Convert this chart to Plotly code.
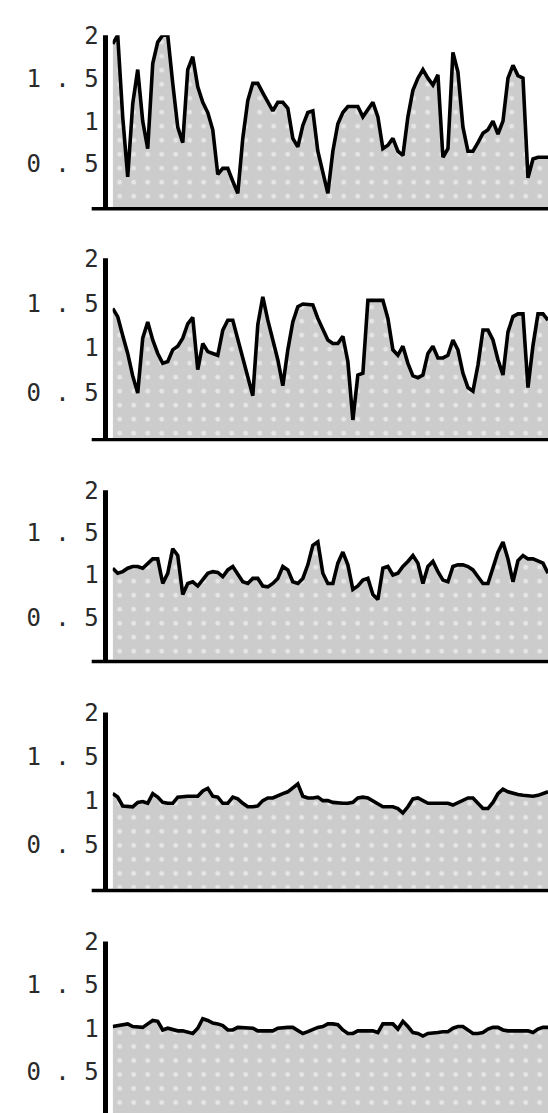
import plotly.graph_objects as go

# ---------------- data ----------------
x_index = list(range(88))

series_1 = [1.9, 2.0, 1.05, 0.35, 1.2, 1.6, 1.0, 0.68, 1.67, 1.92,
            2.0, 2.0, 1.44, 0.93, 0.75, 1.6, 1.75, 1.4, 1.22, 1.1,
            0.9, 0.38, 0.45, 0.45, 0.3, 0.16, 0.8, 1.24, 1.44, 1.44,
            1.33, 1.22, 1.12, 1.22, 1.22, 1.15, 0.8, 0.7, 0.95, 1.1,
            1.12, 0.65, 0.4, 0.16, 0.65, 0.97, 1.1, 1.17, 1.17, 1.17,
            1.05, 1.14, 1.22, 1.05, 0.68, 0.72, 0.8, 0.65, 0.6, 1.05,
            1.36, 1.5, 1.6, 1.5, 1.42, 1.54, 0.58, 0.68, 1.8, 1.57,
            0.93, 0.65, 0.65, 0.75, 0.86, 0.9, 1.0, 0.85, 1.0, 1.5,
            1.65, 1.53, 1.5, 0.34, 0.56, 0.58, 0.58, 0.58]

series_2 = [1.44, 1.35, 1.14, 0.94, 0.69, 0.5, 1.11, 1.29, 1.09, 0.94,
            0.83, 0.85, 0.98, 1.02, 1.11, 1.27, 1.34, 0.76, 1.05, 0.96,
            0.94, 0.92, 1.2, 1.31, 1.31, 1.09, 0.87, 0.65, 0.47, 1.26,
            1.57, 1.31, 1.09, 0.87, 0.58, 0.98, 1.29, 1.46, 1.49, 1.49,
            1.48, 1.33, 1.2, 1.09, 1.05, 1.05, 1.13, 0.85, 0.2, 0.7,
            0.72, 1.53, 1.53, 1.53, 1.53, 1.33, 0.98, 0.92, 1.02, 0.83,
            0.69, 0.67, 0.7, 0.94, 1.02, 0.89, 0.89, 0.92, 1.09, 0.98,
            0.72, 0.56, 0.52, 0.81, 1.2, 1.2, 1.09, 0.87, 0.7, 1.18,
            1.35, 1.38, 1.38, 0.56, 1.03, 1.38, 1.38, 1.31]

series_3 = [1.08, 1.02, 1.04, 1.08, 1.1, 1.1, 1.08, 1.14, 1.19, 1.19,
            0.9, 1.02, 1.31, 1.23, 0.77, 0.9, 0.92, 0.87, 0.94, 1.02,
            1.04, 1.03, 0.98, 1.06, 1.1, 1.0, 0.92, 0.9, 0.96, 0.96,
            0.87, 0.86, 0.9, 0.96, 1.1, 1.06, 0.92, 0.9, 0.96, 1.12,
            1.35, 1.39, 1.02, 0.9, 0.9, 1.14, 1.27, 1.12, 0.83, 0.87,
            0.94, 0.96, 0.77, 0.71, 1.08, 1.1, 1.0, 1.02, 1.1, 1.16,
            1.23, 1.14, 0.9, 1.1, 1.16, 1.04, 0.94, 0.92, 1.1, 1.12,
            1.12, 1.1, 1.06, 0.98, 0.9, 0.9, 1.1, 1.27, 1.39, 1.19,
            0.92, 1.17, 1.23, 1.19, 1.19, 1.17, 1.14, 1.02]

series_4 = [1.08, 1.04, 0.94, 0.93, 0.93, 0.98, 0.99, 0.97, 1.08, 1.04,
            0.98, 0.97, 0.97, 1.04, 1.05, 1.05, 1.05, 1.05, 1.11, 1.14,
            1.05, 1.04, 0.97, 0.97, 1.04, 1.02, 0.97, 0.93, 0.93, 0.94,
            1.0, 1.03, 1.03, 1.06, 1.08, 1.1, 1.15, 1.19, 1.05, 1.03,
            1.03, 1.04, 1.0, 1.0, 0.98, 0.97, 0.97, 0.97, 0.98, 1.03,
            1.04, 1.03, 1.0, 0.97, 0.93, 0.93, 0.93, 0.91, 0.86, 0.93,
            1.02, 1.03, 1.0, 0.97, 0.97, 0.97, 0.97, 0.97, 0.95, 0.98,
            1.0, 1.03, 1.03, 0.97, 0.91, 0.91, 0.98, 1.08, 1.13, 1.1,
            1.08, 1.07, 1.06, 1.05, 1.05, 1.06, 1.08, 1.1]

series_5 = [1.02, 1.03, 1.05, 1.05, 1.02, 1.01, 1.01, 1.05, 1.09, 1.08,
            0.98, 1.0, 0.98, 0.97, 0.97, 0.95, 0.94, 1.0, 1.11, 1.09,
            1.06, 1.05, 1.03, 0.98, 0.98, 1.01, 1.01, 1.01, 1.0, 0.97,
            0.97, 0.97, 0.97, 1.0, 1.01, 1.01, 1.01, 0.97, 0.94, 0.96,
            0.99, 1.01, 1.02, 1.05, 1.05, 1.04, 0.98, 0.94, 0.94, 0.97,
            0.97, 0.97, 0.97, 0.95, 1.05, 1.05, 1.05, 0.99, 1.08, 1.02,
            0.95, 0.94, 0.91, 0.94, 0.94, 0.95, 0.96, 0.96, 1.0, 1.02,
            1.02, 0.98, 0.94, 0.94, 0.95, 0.99, 1.01, 1.01, 0.98, 0.97,
            0.97, 0.97, 0.97, 0.97, 0.95, 0.99, 1.01, 1.01]

all_series = [series_1, series_2, series_3, series_4, series_5]

tick_values = [0.5, 1, 1.5, 2]
tick_labels = ["0 . 5", "1", "1 . 5", "2"]

# ---------------- layout geometry (pixels) ----------------
W, H = 548, 1113
PLOT_LEFT = 112.7
YAXIS_X = 105.5
XAXIS_LEFT = 91.7
# (pixel of value 2, pixel of value 0) for each panel
panel_px = [(21.5, 195.5), (247.3, 429.3), (482.3, 654.0), (707.3, 886.0), (939.3, 1115.0)]

FILL = "#cccccc"
INK = "#000000"

fig = go.Figure()
shapes = []
layout_axes = {}

for k, (ys, (top, bot)) in enumerate(zip(all_series, panel_px)):
    n = k + 1
    xname = "x" if n == 1 else f"x{n}"
    yname = "y" if n == 1 else f"y{n}"
    px_per_unit = (bot - top) / 2.0
    if bot > H:
        dom_bot = 0.0
        ymin = (bot - H) / px_per_unit
    else:
        dom_bot = 1 - bot / H
        ymin = 0.0
    dom_top = 1 - top / H

    fig.add_trace(go.Scatter(
        x=x_index, y=ys, xaxis=xname, yaxis=yname,
        mode="lines", fill="tozeroy",
        line=dict(color=INK, width=3.6, shape="linear"),
        fillcolor=FILL,
        fillpattern=dict(shape=".", bgcolor=FILL, fgcolor="white",
                         size=14, solidity=0.1),
        hoverinfo="skip", showlegend=False,
    ))

    xkey = "xaxis" if n == 1 else f"xaxis{n}"
    ykey = "yaxis" if n == 1 else f"yaxis{n}"
    layout_axes[xkey] = dict(
        domain=[PLOT_LEFT / W, 1.0], range=[0, len(x_index) - 1],
        anchor=yname, showline=False, showgrid=False, zeroline=False,
        showticklabels=False, ticks="", fixedrange=True,
    )
    layout_axes[ykey] = dict(
        domain=[dom_bot, dom_top], range=[ymin, 2.0],
        anchor=xname, showline=False, showgrid=False, zeroline=False,
        tickmode="array", tickvals=tick_values, ticktext=tick_labels,
        ticks="", ticklabelstandoff=13,
        tickfont=dict(family="DejaVu Sans Mono", size=24, color="#2a2a2a"),
        fixedrange=True,
    )

    # vertical axis line
    shapes.append(dict(
        type="line", xref="paper", yref="paper",
        x0=YAXIS_X / W, x1=YAXIS_X / W,
        y0=1 - (bot + 3) / H, y1=dom_top,
        line=dict(color=INK, width=5),
    ))
    # horizontal axis line (extends left past the vertical one)
    if bot + 2 < H:
        yl = 1 - (bot + 1.7) / H
        shapes.append(dict(
            type="line", xref="paper", yref="paper",
            x0=XAXIS_LEFT / W, x1=1.0, y0=yl, y1=yl,
            line=dict(color=INK, width=3.4),
        ))

fig.update_layout(
    width=W, height=H,
    margin=dict(l=0, r=0, t=0, b=0, pad=0),
    paper_bgcolor="white", plot_bgcolor="white",
    showlegend=False,
    shapes=shapes,
    **layout_axes,
)

fig.write_html(
    "out.html",
    config={"displayModeBar": False},
    post_script="document.body.style.margin='0';document.body.style.overflow='hidden';",
)
